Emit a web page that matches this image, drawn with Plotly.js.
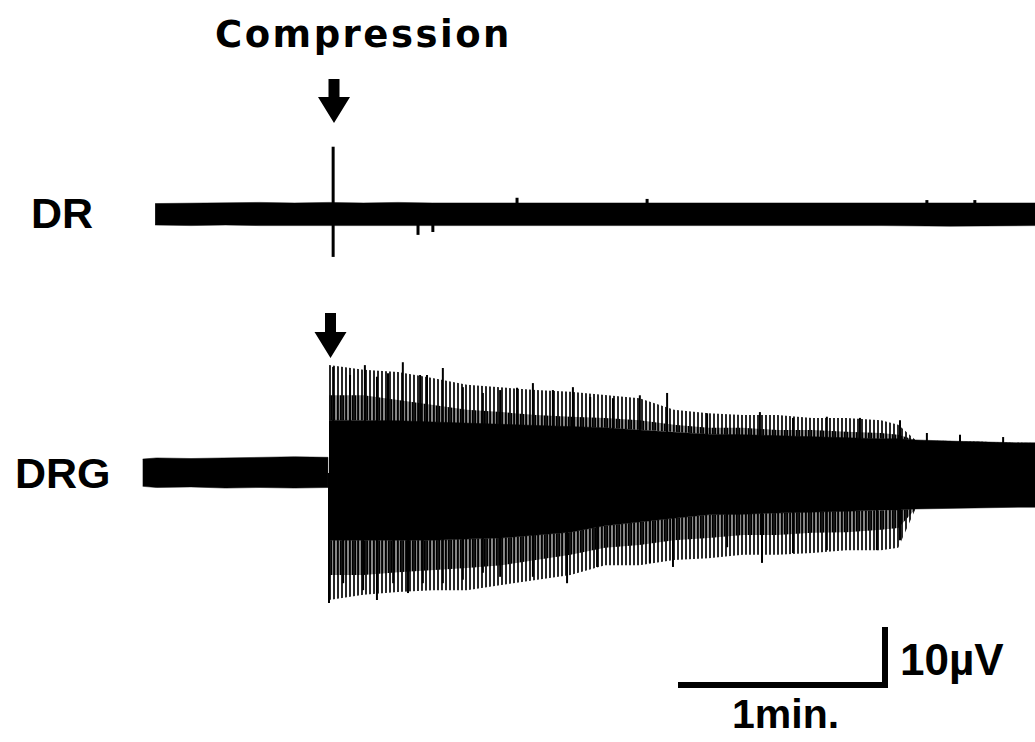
<!DOCTYPE html>
<html><head><meta charset="utf-8">
<script src="https://cdn.plot.ly/plotly-3.0.1.min.js"></script>
<style>html,body{margin:0;padding:0;background:#fff;}#chart{width:1035px;height:742px;}</style>
</head><body><div id="chart"></div>
<script>
// ---------------- data: time in s from compression onset, amplitude in µV ----------------
// DR (dorsal root) recording – envelope of the noise band
const drTime = [-50.4,-40,-30,-20,-10,0,10,20,30,40,50,60,80,100,120,140,160,180,205];
const drTop  = [1.8,1.9,1.9,2.0,1.9,2.0,1.9,2.0,1.9,1.9,2.0,1.9,1.9,1.9,1.9,1.9,2.0,2.0,1.9];
const drBot  = [-1.9,-2.0,-1.9,-2.0,-2.0,-2.1,-2.0,-2.1,-2.0,-2.0,-2.0,-2.1,-2.1,-2.0,-2.0,-2.0,-2.0,-2.1,-2.0];
// DR individual deflections
const drSpikeTime = [1.2, 1.2, 25.8, 30.1, 54.5, 92.2, 173.3, 187.2];
const drSpikeAmp  = [11.6, -7.4, -3.6, -3.1, 2.8, 2.6, 2.4, 2.4];

// DRG (dorsal root ganglion) recording – before compression
const drgPreTime = [-54,-50,-40,-30,-20,-10,-0.3];
const drgPreTop  = [2.4,2.6,2.5,2.6,2.7,2.8,2.7];
const drgPreBot  = [-2.3,-2.5,-2.4,-2.6,-2.5,-2.6,-2.5];

// DRG – after compression: dense core, dense fringe and outer spike envelope
const drgTime     = [0,10,20,30,40,50,60,70,80,90,100,110,120,130,140,150,160,165,170,180,190,200,205];
const drgCoreTop  = [9.1,9.1,9.0,8.8,8.6,8.4,8.1,7.9,7.8,7.4,7.1,6.7,6.6,6.4,6.2,6.0,5.9,5.9,5.7,5.5,5.3,5.2,5.2];
const drgCoreBot  = [-11.6,-11.6,-11.6,-11.6,-11.4,-11.2,-10.7,-10.2,-9.1,-8.4,-7.8,-7.2,-7.1,-6.9,-6.7,-6.6,-6.4,-6.4,-6.2,-6.0,-6.0,-5.9,-5.9];
const drgUpMid    = [13.4,13.4,12.6,11.7,10.9,10.5,10.0,9.7,9.5,9.1,8.3,7.8,7.8,7.4,7.4,7.1,6.9,6.6,5.7,5.5,5.3,5.2,5.2];
const drgUpOuter  = [18.6,17.8,17.4,16.4,15.2,14.7,14.3,14.0,13.4,12.9,10.9,10.3,10.0,10.0,9.5,9.5,9.1,8.3,5.7,5.5,5.3,5.2,5.2];
const drgLowMid   = [-17.6,-17.6,-17.1,-16.7,-16.4,-15.9,-15.0,-14.1,-12.9,-12.4,-11.6,-11.2,-10.7,-10.7,-10.3,-10.2,-9.8,-9.5,-6.2,-6.0,-6.0,-5.9,-5.9];
const drgLowOuter = [-21.9,-21.0,-20.5,-20.2,-20.2,-19.3,-18.4,-17.6,-15.9,-15.9,-15.0,-14.7,-14.1,-14.1,-13.8,-13.3,-13.3,-12.9,-6.2,-6.0,-6.0,-5.9,-5.9];
// DRG prominent spikes
const drgUpSpikeTime = [1.2,6.1,10.4,13.9,17.1,21.4,26.4,28.4,33.0,38.8,44.6,49.6,54.5,59.1,64.9,70.7,75.7,82.3,90.1,98.0,109.6,124.9,134.5,144.3,153.9,165.5,173.3,182.9,195.4];
const drgUpSpikeAmp  = [18.3,16.9,18.6,16.6,17.2,19.1,16.9,16.9,18.1,14.8,13.8,14.3,14.7,15.5,14.3,14.8,13.1,12.9,13.4,13.8,10.3,10.5,9.5,9.7,9.5,9.1,6.9,6.6,6.2];
const drgDnSpikeTime = [0.0,4.1,9.9,13.9,18.6,22.9,27.2,33.0,38.8,44.6,49.6,59.1,69.0,77.7,93.0,99.7,115.4,125.5,134.5,144.3,158.8,165.5];
const drgDnSpikeAmp  = [-22.4,-19.0,-20.2,-21.9,-19.0,-20.7,-19.0,-19.0,-18.4,-17.2,-17.9,-17.9,-19.0,-16.2,-15.5,-16.2,-12.8,-15.5,-13.8,-13.3,-13.3,-11.6];

// scale bar values
const scaleTime = 60;   // s  (1 min.)
const scaleAmp  = 10;   // µV

// ---------------- geometry (page pixels -> data) ----------------
const W = 1035, H = 742;
const PX_PER_S = 3.45, PX_PER_UV = 5.8;
const ONSET_PX = 329, DRG_BASE_PY = 473, DR_BASE_PY = 214;
const X = px => (px - ONSET_PX) / PX_PER_S;
const Y = py => (DRG_BASE_PY - py) / PX_PER_UV;
const drOffset = Y(DR_BASE_PY);

function band(t, top, bot, off, extra) {
  const x = t.concat(t.slice().reverse());
  const y = top.map(v => v + off).concat(bot.slice().reverse().map(v => v + off));
  return Object.assign({x, y, type:'scatter', mode:'lines', fill:'toself',
    line:{width:0.5, color:'black'}, fillcolor:'black', hoverinfo:'skip', showlegend:false}, extra || {});
}
function spikes(t, a, off, w) {
  const x = [], y = [];
  t.forEach((v, i) => { x.push(v, v, null); y.push(off, a[i] + off, null); });
  return {x, y, type:'scatter', mode:'lines', line:{color:'black', width:w}, hoverinfo:'skip', showlegend:false};
}
const hatch = (size, sol) => ({fillcolor:'rgba(0,0,0,0)', line:{width:0, color:'black'},
  fillpattern:{shape:'|', size:size, solidity:sol, fgcolor:'black'}});

const data = [
  band(drTime, drTop, drBot, drOffset),
  spikes(drSpikeTime, drSpikeAmp, drOffset, 3),
  band(drgPreTime, drgPreTop, drgPreBot, 0),
  band(drgTime, drgUpOuter, drgCoreTop, 0, hatch(4, 0.42)),
  band(drgTime, drgCoreBot, drgLowOuter, 0, hatch(4, 0.42)),
  band(drgTime, drgUpMid, drgCoreTop, 0, hatch(3, 0.65)),
  band(drgTime, drgCoreBot, drgLowMid, 0, hatch(3, 0.65)),
  band(drgTime, drgCoreTop, drgCoreBot, 0),
  spikes(drgUpSpikeTime, drgUpSpikeAmp, 0, 2),
  spikes(drgDnSpikeTime, drgDnSpikeAmp, 0, 2)
];

function arrowPath(cx, topPy, headPy, tipPy, sh, hh) {
  const p = (a, b) => X(a) + ',' + Y(b);
  return 'M' + p(cx - sh, topPy) + ' L' + p(cx + sh, topPy) + ' L' + p(cx + sh, headPy) +
         ' L' + p(cx + hh, headPy) + ' L' + p(cx, tipPy) + ' L' + p(cx - hh, headPy) +
         ' L' + p(cx - sh, headPy) + ' Z';
}
const sbX1 = X(885), sbY0 = Y(685);
const shapes = [
  {type:'path', xref:'x', yref:'y', path: arrowPath(334, 79, 97, 123, 5.5, 16), fillcolor:'black', line:{width:0}},
  {type:'path', xref:'x', yref:'y', path: arrowPath(330.5, 313, 332, 358, 5.5, 16), fillcolor:'black', line:{width:0}},
  {type:'path', xref:'x', yref:'y',
   path: 'M' + (sbX1 - scaleTime) + ',' + sbY0 + ' L' + sbX1 + ',' + sbY0 + ' L' + sbX1 + ',' + (sbY0 + scaleAmp),
   line:{color:'black', width:6}, fillcolor:'rgba(0,0,0,0)'}
];

const F = 'Liberation Sans, Arial, Helvetica, sans-serif';
const ann = (text, px, py, size, fam) => ({text, x: X(px), y: Y(py), xref:'x', yref:'y', showarrow:false,
  xanchor:'center', yanchor:'middle', font:{family: fam || F, size, color:'black', weight:'bold'}});
const annotations = [
  ann('<span style="letter-spacing:2.5px">Compression</span>', 363, 34, 37, 'DejaVu Sans, sans-serif'),
  ann('DR', 62, 213, 43),
  ann('DRG', 63, 473, 43),
  ann('10µV', 952, 659, 44),
  ann('1min.', 785, 714, 41)
];

const layout = {
  width: W, height: H, margin:{l:0, r:0, t:0, b:0},
  paper_bgcolor:'white', plot_bgcolor:'white', showlegend:false, hovermode:false,
  xaxis:{range:[X(0), X(W)], visible:false, fixedrange:true},
  yaxis:{range:[Y(H), Y(0)], visible:false, fixedrange:true},
  shapes, annotations
};
Plotly.newPlot('chart', data, layout, {displayModeBar:false, staticPlot:true});
</script></body></html>
